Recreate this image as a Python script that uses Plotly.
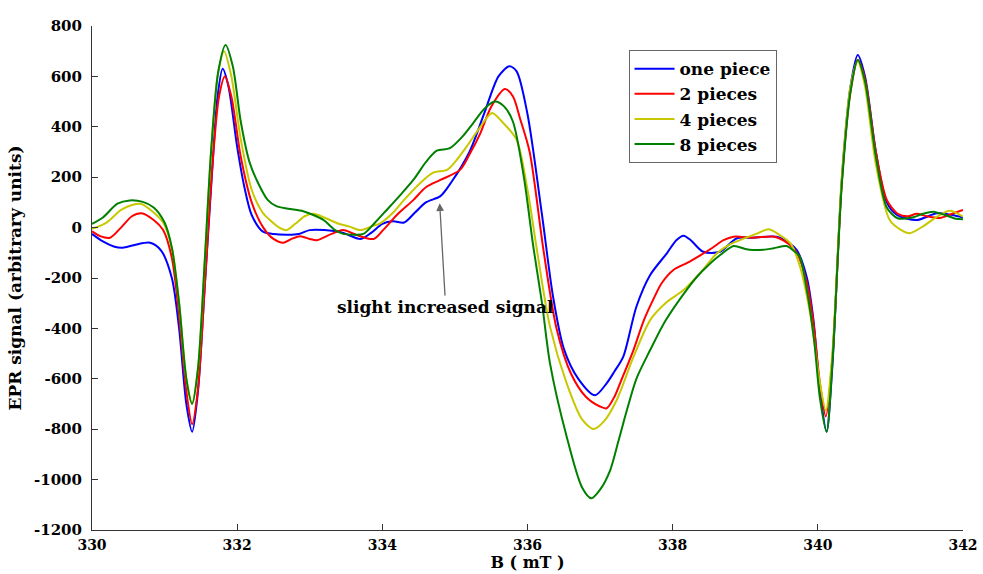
import plotly.graph_objects as go

# ---- data ----
b_one = [330.0, 330.15, 330.3, 330.42, 330.6, 330.8, 330.95, 331.1, 331.2, 331.3, 331.38, 331.46, 331.55, 331.65, 331.73, 331.8, 331.88, 332.0, 332.1, 332.2, 332.35, 332.5, 332.7, 332.85, 333.0, 333.2, 333.45, 333.7, 333.85, 334.0, 334.15, 334.3, 334.45, 334.6, 334.8, 334.95, 335.2, 335.4, 335.6, 335.75, 335.85, 336.0, 336.2, 336.35, 336.5, 336.7, 336.93, 337.09, 337.2, 337.32, 337.5, 337.69, 337.92, 338.05, 338.15, 338.25, 338.42, 338.65, 338.88, 339.1, 339.43, 339.6, 339.71, 339.85, 339.94, 340.03, 340.12, 340.2, 340.33, 340.45, 340.55, 340.65, 340.8, 340.95, 341.09, 341.36, 341.64, 341.85, 342.0]
v_one = [-25, -55, -75, -80, -68, -60, -90, -200, -400, -700, -810, -650, -250, 200, 520, 630, 560, 320, 160, 50, -15, -25, -28, -25, -10, -10, -20, -45, -20, 15, 25, 20, 60, 100, 125, 180, 300, 450, 600, 640, 620, 450, 50, -270, -480, -600, -665, -618, -570, -512, -314, -188, -102, -50, -32, -50, -96, -96, -43, -40, -36, -60, -89, -200, -367, -650, -810, -550, 190, 560, 685, 600, 300, 100, 50, 30, 57, 50, 40]

b_two = [330.0, 330.12, 330.25, 330.4, 330.55, 330.68, 330.85, 330.98, 331.1, 331.2, 331.3, 331.38, 331.46, 331.56, 331.66, 331.75, 331.83, 331.92, 332.05, 332.2, 332.36, 332.5, 332.64, 332.75, 332.87, 333.0, 333.1, 333.3, 333.46, 333.65, 333.88, 334.01, 334.2, 334.43, 334.6, 334.8, 335.07, 335.2, 335.35, 335.5, 335.69, 335.8, 335.9, 336.03, 336.22, 336.4, 336.6, 336.8, 337.0, 337.09, 337.2, 337.3, 337.46, 337.6, 337.73, 337.85, 338.01, 338.2, 338.38, 338.55, 338.7, 338.84, 339.1, 339.4, 339.6, 339.71, 339.85, 339.94, 340.03, 340.11, 340.2, 340.33, 340.45, 340.55, 340.65, 340.8, 340.95, 341.1, 341.25, 341.36, 341.5, 341.68, 341.85, 342.0]
v_two = [-15, -35, -40, 0, 45, 57, 30, -10, -120, -350, -650, -780, -640, -200, 250, 520, 600, 520, 280, 100, 0, -45, -60, -45, -34, -45, -50, -25, -10, -30, -45, -10, 50, 110, 160, 189, 229, 290, 374, 480, 550, 520, 430, 300, -89, -400, -580, -670, -710, -717, -670, -600, -486, -370, -287, -220, -168, -140, -110, -80, -50, -36, -40, -36, -65, -100, -220, -380, -620, -750, -520, 180, 540, 665, 590, 300, 110, 55, 45, 55, 45, 38, 55, 70]

b_four = [330.0, 330.2, 330.4, 330.55, 330.68, 330.85, 330.98, 331.1, 331.2, 331.3, 331.38, 331.46, 331.55, 331.64, 331.73, 331.82, 331.92, 332.05, 332.2, 332.35, 332.45, 332.58, 332.68, 332.8, 332.93, 333.05, 333.2, 333.4, 333.55, 333.7, 333.85, 333.97, 334.15, 334.3, 334.52, 334.7, 334.89, 335.0, 335.16, 335.35, 335.51, 335.65, 335.85, 336.0, 336.13, 336.31, 336.54, 336.75, 336.91, 337.05, 337.23, 337.45, 337.69, 337.9, 338.15, 338.38, 338.61, 338.8, 338.97, 339.15, 339.32, 339.45, 339.62, 339.75, 339.9, 340.02, 340.11, 340.2, 340.33, 340.45, 340.55, 340.65, 340.8, 340.99, 341.15, 341.27, 341.45, 341.64, 341.82, 342.0]
v_four = [-5, 20, 70, 90, 94, 60, 20, -80, -300, -600, -695, -560, -150, 300, 600, 700, 600, 350, 150, 60, 30, 0, -10, 15, 45, 55, 40, 15, 4, -10, 5, 17, 60, 110, 176, 218, 229, 260, 321, 400, 455, 420, 348, 150, -89, -393, -618, -760, -799, -770, -684, -520, -367, -300, -248, -180, -102, -65, -45, -25, -7, -25, -62, -150, -350, -600, -725, -500, 200, 560, 660, 560, 250, 30, -10, -22, 5, 43, 67, 43]

b_eight = [330.0, 330.15, 330.35, 330.52, 330.7, 330.85, 331.0, 331.1, 331.2, 331.3, 331.38, 331.46, 331.55, 331.64, 331.74, 331.84, 331.94, 332.05, 332.17, 332.3, 332.42, 332.54, 332.7, 332.91, 333.05, 333.19, 333.35, 333.46, 333.6, 333.74, 333.9, 334.06, 334.25, 334.43, 334.6, 334.75, 334.93, 335.1, 335.25, 335.4, 335.55, 335.68, 335.8, 335.95, 336.08, 336.2, 336.31, 336.54, 336.75, 336.88, 337.0, 337.14, 337.25, 337.37, 337.5, 337.69, 337.9, 338.19, 338.35, 338.47, 338.65, 338.84, 339.0, 339.11, 339.25, 339.39, 339.57, 339.68, 339.75, 339.85, 339.95, 340.03, 340.12, 340.2, 340.33, 340.45, 340.55, 340.65, 340.8, 340.95, 341.1, 341.3, 341.45, 341.59, 341.75, 341.9, 342.0]
v_eight = [15, 40, 95, 108, 102, 80, 20, -80, -300, -600, -700, -560, -150, 300, 620, 725, 640, 420, 260, 170, 110, 85, 75, 65, 50, 30, -10, -25, -28, -25, 20, 70, 130, 190, 260, 305, 315, 360, 414, 470, 500, 480, 420, 200, -76, -300, -539, -830, -1030, -1074, -1040, -962, -850, -724, -600, -486, -370, -248, -190, -155, -110, -73, -85, -89, -88, -82, -73, -95, -115, -250, -450, -680, -810, -540, 170, 540, 665, 580, 280, 80, 37, 40, 55, 63, 50, 35, 33]

series_names = ["one piece", "2 pieces", "4 pieces", "8 pieces"]
x_ticks = [330, 332, 334, 336, 338, 340, 342]
x_tick_labels = ["330", "332", "334", "336", "338", "340", "342"]
y_ticks = [800, 600, 400, 200, 0, -200, -400, -600, -800, -1000, -1200]
y_tick_labels = ["800", "600", "400", "200", "0", "-200", "-400", "-600", "-800", "-1000", "-1200"]

colors = ["#0000ff", "#ff0000", "#c8c800", "#008000"]
FONT = "DejaVu Serif"

fig = go.Figure()
for i, (bx, vy, name, col) in enumerate(zip([b_one, b_two, b_four, b_eight],
                                            [v_one, v_two, v_four, v_eight],
                                            series_names, colors)):
    fig.add_trace(go.Scatter(x=bx, y=vy, name=f"<b>{name}</b>", mode="lines",
                             legendgroup=f"g{i}",
                             line=dict(color=col, width=2, shape="spline", smoothing=0.8)))

fig.add_annotation(x=334.79, y=97, xref="x", yref="y", text="<b>slight increased signal</b>",
                   showarrow=True, arrowhead=2, arrowsize=1.2, arrowwidth=1.3,
                   arrowcolor="#666666", ax=6, ay=104,
                   font=dict(family=FONT, size=17, color="black"))

axis_common = dict(showline=True, linecolor="#333333", linewidth=1, ticks="inside",
                   ticklen=6, tickcolor="#333333", showgrid=False, zeroline=False,
                   mirror=False, automargin=False)

fig.update_layout(
    width=983, height=574,
    margin=dict(l=92, r=20, t=26, b=44),
    paper_bgcolor="white", plot_bgcolor="white",
    showlegend=True,
    legend=dict(x=0.616, y=0.952, xanchor="left", yanchor="top",
                bordercolor="#666666", borderwidth=1, bgcolor="white",
                font=dict(family=FONT, size=17, color="black"),
                tracegroupgap=0, itemwidth=40),
    font=dict(family=FONT, color="black"),
)
fig.update_xaxes(range=[330, 342], tickvals=x_ticks, ticktext=[f"<b>{t}</b>" for t in x_tick_labels],
                 ticklabelstandoff=2, tickfont=dict(family=FONT, size=14, color="black"),
                 title=dict(text="<b>B ( mT )</b>", font=dict(family=FONT, size=16, color="black"), standoff=0),
                 **axis_common)
fig.update_yaxes(range=[-1200, 800], tickvals=y_ticks, ticktext=[f"<b>{t}</b>" for t in y_tick_labels],
                 ticklabelstandoff=6, tickfont=dict(family=FONT, size=15, color="black"),
                 title=dict(text="<b>EPR signal (arbitrary units)</b>", font=dict(family=FONT, size=17, color="black"), standoff=8),
                 **axis_common)

fig.write_html("out.html", config={"displayModeBar": False},
               post_script="document.body.style.margin='0';document.body.style.overflow='hidden';")
